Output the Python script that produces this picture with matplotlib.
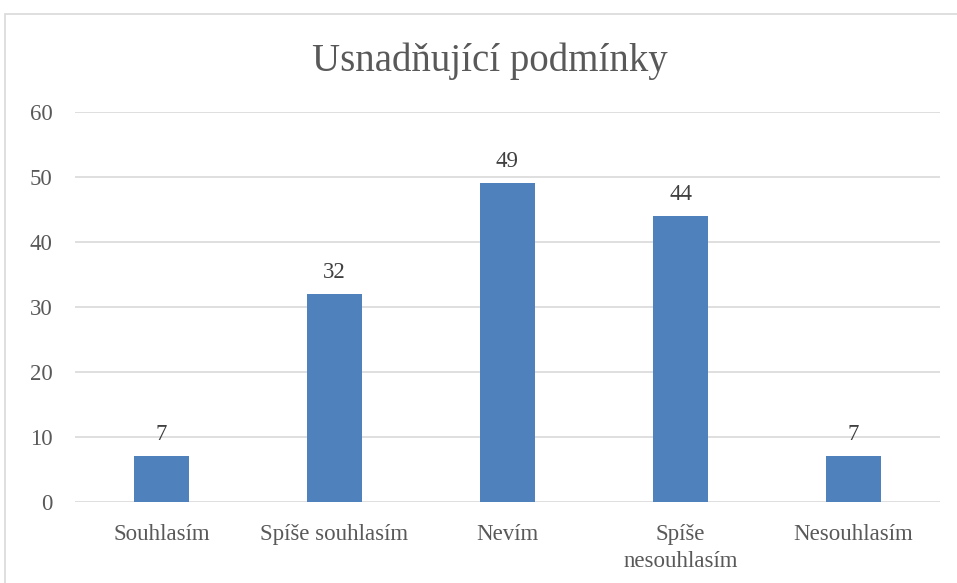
import matplotlib.pyplot as plt
from matplotlib.patches import Rectangle

categories = ["Souhlasím", "Spíše souhlasím", "Nevím", "Spíše\nnesouhlasím", "Nesouhlasím"]
values = [7, 32, 49, 44, 7]
y_ticks = [0, 10, 20, 30, 40, 50, 60]

plt.rcParams['font.family'] = ['Liberation Serif', 'DejaVu Serif']
text_color = "#595959"
grid_color = "#D9D9D9"

fig = plt.figure(figsize=(9.57, 5.83), dpi=100)
ax = fig.add_axes([75 / 957, 1 - 501.7 / 583, 865 / 957, 389.9 / 583])

# outer chart border
fig.patches.append(Rectangle((5 / 957, -0.05), 1.0, 1 - 14 / 583 + 0.05,
                             transform=fig.transFigure, fill=False,
                             edgecolor=grid_color, linewidth=1.2))

x = range(len(categories))
bars = ax.bar(x, values, width=0.32, color="#4F81BD", zorder=3)

for b, v in zip(bars, values):
    ax.annotate(str(v), (b.get_x() + b.get_width() / 2, v), xytext=(0, 8),
                textcoords="offset points", ha="center", va="bottom",
                fontsize=16.5, color="#404040")

ax.set_xlim(-0.5, len(categories) - 0.5)
ax.set_ylim(0, 60)
ax.set_yticks(y_ticks)
ax.set_xticks(list(x))
ax.set_xticklabels(categories, linespacing=1.4)
ax.tick_params(axis="both", length=0, labelsize=16.5, colors=text_color)
ax.tick_params(axis="x", pad=16)
ax.tick_params(axis="y", pad=16)
ax.grid(axis="y", color=grid_color, linewidth=1.2, zorder=0)
for s in ax.spines.values():
    s.set_visible(False)

fig.text(490 / 957, 1 - 71 / 583, "Usnadňující podmínky", ha="center", va="baseline",
         fontsize=28, color=text_color)

fig.savefig("out.png", dpi=100)
